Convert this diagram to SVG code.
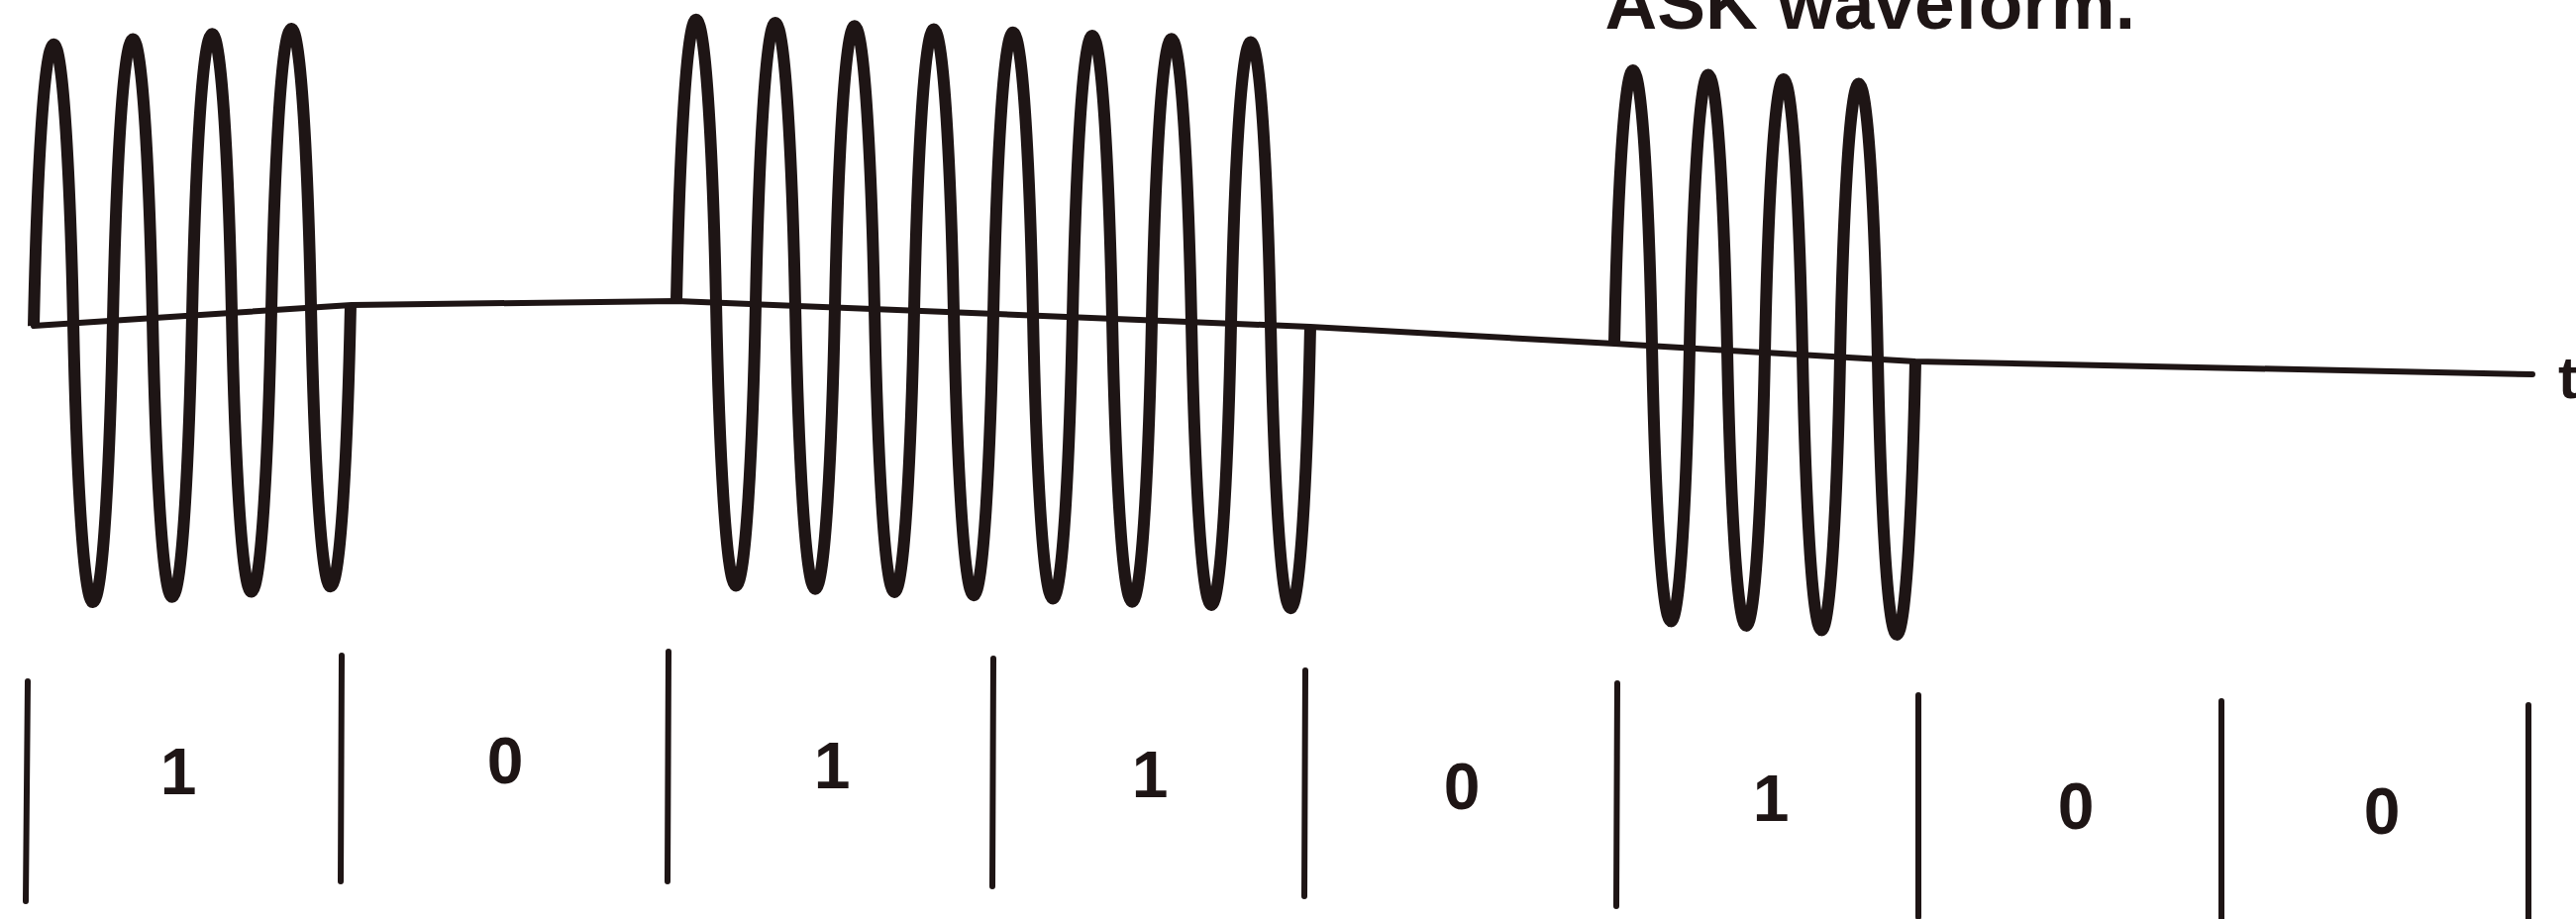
<svg xmlns="http://www.w3.org/2000/svg" width="2601" height="928" viewBox="0 0 2601 928">
<style>
.axis{fill:none;stroke:#1e1515;stroke-width:6;stroke-linejoin:round;stroke-linecap:round}
.wave{fill:none;stroke:#1e1515;stroke-width:12;stroke-linejoin:round;stroke-linecap:butt}
.tick{stroke:#1e1515;stroke-width:6;stroke-linecap:round}
.bit{font-family:"Liberation Sans",Arial,sans-serif;font-weight:bold;font-size:66px;fill:#1e1515;text-anchor:middle}
.title{font-family:"Liberation Sans",Arial,sans-serif;font-weight:bold;font-size:73px;fill:#1e1515}
</style>
<rect width="2601" height="928" fill="#ffffff"/>
<text id="caption" class="title" x="2156" y="29" text-anchor="end">ASK waveform.</text>
<g id="connectors">
<polyline class="axis" points="34,329 355,308 683,304 1323,330 1630,347 1934,365 2557,378"/>
</g>
<g id="burst1" transform="matrix(1,-0.0656,0,1,34,329)">
<path class="wave" d="M0,0 C3,-141.5 10,-283 20,-283 S37,-141.5 40,0 S50,283 60,283 S77,141.5 80,0 S90,-283 100,-283 S117,-141.5 120,0 S130,283 140,283 S157,141.5 160,0 S170,-283 180,-283 S197,-141.5 200,0 S210,283 220,283 S237,141.5 240,0 S250,-283 260,-283 S277,-141.5 280,0 S290,283 300,283 S317,141.5 320,0"/>
</g>
<g id="burst2" transform="matrix(1,0.0406,0,1,683,304)">
<path class="wave" d="M0,0 C3,-142.5 10,-285 20,-285 S37,-142.5 40,0 S50,285 60,285 S77,142.5 80,0 S90,-285 100,-285 S117,-142.5 120,0 S130,285 140,285 S157,142.5 160,0 S170,-285 180,-285 S197,-142.5 200,0 S210,285 220,285 S237,142.5 240,0 S250,-285 260,-285 S277,-142.5 280,0 S290,285 300,285 S317,142.5 320,0 S330,-285 340,-285 S357,-142.5 360,0 S370,285 380,285 S397,142.5 400,0 S410,-285 420,-285 S437,-142.5 440,0 S450,285 460,285 S477,142.5 480,0 S490,-285 500,-285 S517,-142.5 520,0 S530,285 540,285 S557,142.5 560,0 S570,-285 580,-285 S597,-142.5 600,0 S610,285 620,285 S637,142.5 640,0"/>
</g>
<g id="burst3" transform="matrix(1,0.0592,0,1,1630,347)">
<path class="wave" d="M0,0 C2.85,-138.5 9.5,-277 19,-277 S35.15,-138.5 38,0 S47.5,277 57,277 S73.15,138.5 76,0 S85.5,-277 95,-277 S111.15,-138.5 114,0 S123.5,277 133,277 S149.15,138.5 152,0 S161.5,-277 171,-277 S187.15,-138.5 190,0 S199.5,277 209,277 S225.15,138.5 228,0 S237.5,-277 247,-277 S263.15,-138.5 266,0 S275.5,277 285,277 S301.15,138.5 304,0"/>
</g>
<text id="t-label" class="title" x="2583" y="402" style="font-size:60px">t</text>
<g id="ticks">
<line class="tick" x1="28" y1="688" x2="26" y2="910"/>
<line class="tick" x1="345" y1="662" x2="344" y2="890"/>
<line class="tick" x1="675" y1="658" x2="674" y2="890"/>
<line class="tick" x1="1003" y1="665" x2="1002" y2="895"/>
<line class="tick" x1="1318" y1="677" x2="1317" y2="905"/>
<line class="tick" x1="1633" y1="690" x2="1632" y2="915"/>
<line class="tick" x1="1937" y1="702" x2="1937" y2="926"/>
<line class="tick" x1="2243" y1="708" x2="2243" y2="930"/>
<line class="tick" x1="2553" y1="712" x2="2553" y2="930"/>
</g>
<g id="bits">
<text class="bit" x="180" y="802">1</text>
<text class="bit" x="510" y="791">0</text>
<text class="bit" x="840" y="796">1</text>
<text class="bit" x="1161" y="805">1</text>
<text class="bit" x="1476" y="817">0</text>
<text class="bit" x="1788" y="829">1</text>
<text class="bit" x="2096" y="837">0</text>
<text class="bit" x="2405" y="842">0</text>
</g>
</svg>
